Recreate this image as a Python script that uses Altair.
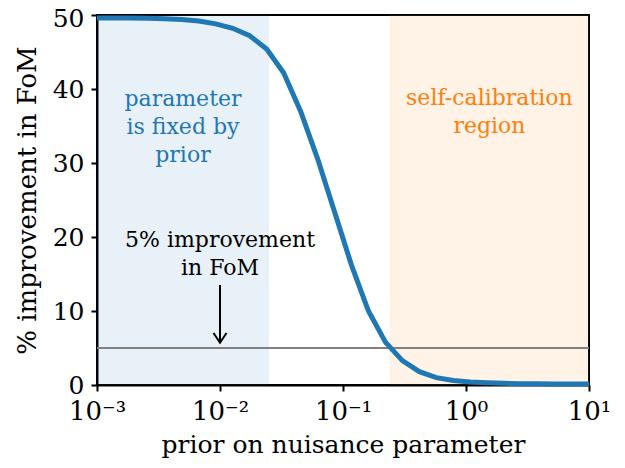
import altair as alt
import pandas as pd

# curve
prior = [0.001, 0.001374, 0.001888, 0.002593, 0.003562, 0.004894, 0.006723, 0.009236,
         0.01269, 0.01743, 0.02395, 0.03290, 0.04520, 0.06210, 0.08532, 0.1172,
         0.1610, 0.2212, 0.3039, 0.4175, 0.5736, 0.7880, 1.083, 1.487, 2.043,
         2.807, 3.857, 5.298, 7.279, 10.0]
improvement = [49.6, 49.6, 49.6, 49.55, 49.5, 49.4, 49.2, 48.8,
               48.2, 47.2, 45.4, 42.2, 37.0, 30.6, 23.4, 16.2,
               10.0, 5.8, 3.3, 1.8, 1.0, 0.6, 0.4, 0.3, 0.22,
               0.18, 0.16, 0.15, 0.15, 0.15]

fixed_region = [0.001, 0.025]
selfcal_region = [0.24, 10.0]
threshold = 5
arrow_x = 0.01
arrow_y = [13.5, 5.7]

x_ticks = [0.001, 0.01, 0.1, 1, 10]
x_labels = ["10⁻³", "10⁻²", "10⁻¹", "10⁰", "10¹"]
y_ticks = [0, 10, 20, 30, 40, 50]

notes_text = ["parameter\nis fixed by\nprior", "self-calibration\nregion", "5% improvement\nin FoM"]
notes_x = [0.005, 1.55, 0.01]
notes_y = [38.6, 38.8, 19.6]
notes_color = ["#1f77b4", "#ff7f0e", "#000000"]

FONT = "DejaVu Serif"

curve_df = pd.DataFrame({"prior": prior, "imp": improvement})
regions_df = pd.DataFrame({
    "x1": [fixed_region[0], selfcal_region[0]],
    "x2": [fixed_region[1], selfcal_region[1]],
    "c": ["#1f77b4", "#ff7f0e"],
})
notes_df = pd.DataFrame({"x": notes_x, "y": notes_y, "t": notes_text, "c": notes_color})

label_expr = " : ".join(
    [f"datum.value == {v} ? '{l}'" for v, l in zip(x_ticks, x_labels)]
) + " : ''"

xscale = alt.Scale(type="log", domain=[0.001, 10], nice=False)
yscale = alt.Scale(domain=[0, 50], nice=False)

xaxis = alt.Axis(values=x_ticks, labelExpr=label_expr, title="prior on nuisance parameter",
                 grid=False, labelFontSize=26, titleFontSize=25, labelPadding=7, titlePadding=8,
                 labelFont=FONT, titleFont=FONT)
yaxis = alt.Axis(values=y_ticks, title="% improvement in FoM", grid=False,
                 labelFontSize=25, titleFontSize=26, labelPadding=7, titlePadding=12,
                 labelFont=FONT, titleFont=FONT,
                 labelOffset={"condition": {"test": "datum.value == 50", "value": 3}, "value": 0})

regions = alt.Chart(regions_df).mark_rect(opacity=0.1).encode(
    x=alt.X("x1:Q", scale=xscale, axis=xaxis),
    x2="x2:Q",
    y=alt.value(0),
    y2=alt.value(370),
    color=alt.Color("c:N", scale=None),
)

hline = alt.Chart(pd.DataFrame({"y": [threshold]})).mark_rule(color="gray", strokeWidth=2).encode(
    y=alt.Y("y:Q", scale=yscale, axis=yaxis)
)

curve = alt.Chart(curve_df).mark_line(color="#1f77b4", strokeWidth=5).encode(
    x=alt.X("prior:Q", scale=xscale, axis=xaxis),
    y=alt.Y("imp:Q", scale=yscale, axis=yaxis),
)

arrow_df = pd.DataFrame({"x": [arrow_x], "y1": [arrow_y[0]], "y2": [arrow_y[1]]})
arrow_line = alt.Chart(arrow_df).mark_rule(color="black", strokeWidth=2).encode(
    x=alt.X("x:Q", scale=xscale), y=alt.Y("y1:Q", scale=yscale), y2="y2:Q"
)
arrow_head = alt.Chart(arrow_df).mark_point(
    shape="M-1,-1.5L0,0L1,-1.5", size=169, filled=False, color="black", strokeWidth=2, opacity=1
).encode(x=alt.X("x:Q", scale=xscale), y=alt.Y("y2:Q", scale=yscale))

notes = alt.Chart(notes_df).mark_text(
    font=FONT, fontSize=22, lineBreak="\n", lineHeight=28, align="center", baseline="middle"
).encode(
    x=alt.X("x:Q", scale=xscale), y=alt.Y("y:Q", scale=yscale),
    text="t:N", color=alt.Color("c:N", scale=None),
)

chart = alt.layer(regions, hline, curve, arrow_line, arrow_head, notes).properties(
    width=492, height=370,
    autosize=alt.AutoSizeParams(type="none"),
    padding={"left": 89, "top": 7, "right": 28, "bottom": 75},
).configure(font=FONT).configure_axis(
    domainColor="black", domainWidth=2, tickColor="black", tickWidth=2, tickSize=6,
    labelColor="black", titleColor="black", labelFont=FONT, titleFont=FONT,
    titleFontWeight="normal", labelFlush=False,
).configure_text(font=FONT).configure_view(stroke="black", strokeWidth=2)

chart.save("out.html", embed_options={"renderer": "svg", "actions": False})
